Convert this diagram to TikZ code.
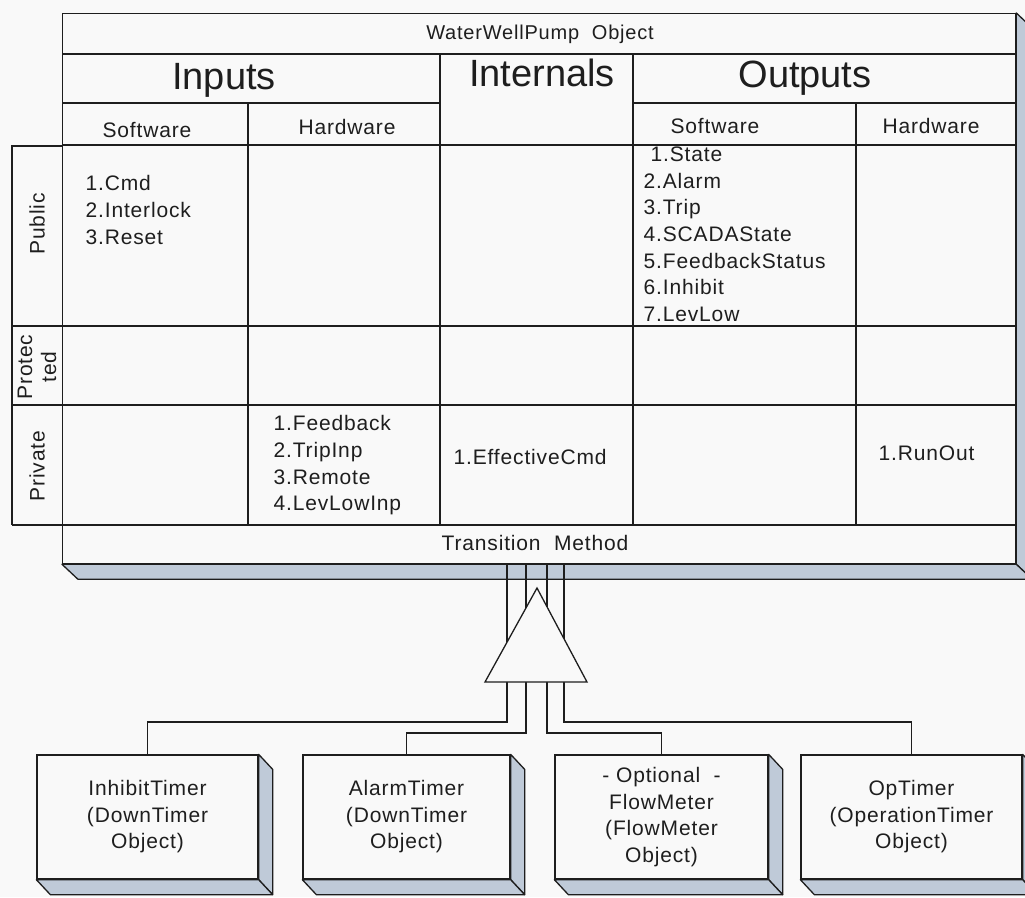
\documentclass[tikz,border=0pt]{standalone}
\usepackage{fontspec}
\setmainfont{Liberation Sans}
\newfontfamily\spaced[LetterSpace=4]{Liberation Sans}
\usetikzlibrary{calc}

\definecolor{ink}{HTML}{1E1E1E}
\definecolor{paper}{HTML}{F9F9F9}
\definecolor{slabside}{HTML}{BFCAD8}

% visible side and bottom faces of a raised block, offset by (#2,#3)
\newcommand\slabfaces[3]{%
  \filldraw[slab] (#1.north east) -- ++(#2,#3) -- ($(#1.south east)+(#2,#3)$) -- (#1.south east) -- cycle;
  \filldraw[slab] (#1.south west) -- ++(#2,#3) -- ($(#1.south east)+(#2,#3)$) -- (#1.south east) -- cycle;
}

\begin{document}
\begin{tikzpicture}[x=1pt,y=-1pt,color=ink,line width=1.3pt,
  slab/.style={fill=slabside,draw=ink,line join=round},
  grid/.style={draw=ink},
  titletext/.style={font=\spaced\fontsize{20}{24}\selectfont,inner sep=0pt,anchor=base},
  bighdr/.style={font=\fontsize{38}{40}\selectfont,inner sep=0pt,anchor=base},
  subhdr/.style={font=\spaced\fontsize{21}{25}\selectfont,inner sep=0pt,anchor=base},
  cell/.style={font=\spaced\fontsize{21}{26.7}\selectfont,align=left,inner sep=0pt,anchor=north west},
  single/.style={font=\spaced\fontsize{21}{25}\selectfont,inner sep=0pt,anchor=west},
  sidelabel/.style={font=\spaced\fontsize{21}{24}\selectfont,rotate=90,align=center,inner sep=0pt},
  partbox/.style={draw=ink,fill=paper,minimum height=124pt,align=center,inner sep=0pt,
    font=\spaced\fontsize{21}{26.5}\selectfont}]

\fill[paper] (0,0) rectangle (1025,897);
\useasboundingbox (0,0) rectangle (1025,897);

% ---- the object block ----
\node[draw=ink,fill=paper,minimum width=953pt,minimum height=550pt,inner sep=0pt,anchor=north west] (obj) at (62,13) {};
\slabfaces{obj}{16}{15}

% row and column rules
\draw[grid] (62,54) -- (1015,54);
\draw[grid] (62,103) -- (440,103);
\draw[grid] (633,103) -- (1015,103);
\draw[grid] (62,145) -- (1015,145);
\draw[grid] (12,326) -- (1015,326);
\draw[grid] (12,405) -- (1015,405);
\draw[grid] (12,525) -- (1015,525);
\draw[grid] (248,103) -- (248,525);
\draw[grid] (440,54) -- (440,525);
\draw[grid] (633,54) -- (633,525);
\draw[grid] (856,103) -- (856,525);
% visibility column on the left
\draw[grid] (62,146) -- (12,146) -- (12,525);

% headings
\node[titletext] (title) at (540,39) {WaterWellPump\ \ Object};
\node[bighdr] (hin) at (224,89) {Inputs};
\node[bighdr] (hint) at (542,86) {Internals};
\node[bighdr] (hout) at (805,87) {Outputs};
\node[subhdr] (hinsw) at (147,137) {Software};
\node[subhdr] (hinhw) at (347,134) {Hardware};
\node[subhdr] (houtsw) at (715,133) {Software};
\node[subhdr] (houthw) at (931,133) {Hardware};

% visibility labels
\node[sidelabel] (lpub) at (37,224) {Public};
\node[sidelabel] (lprot) at (37,367) {Protec\\ted};
\node[sidelabel] (lpriv) at (37,466) {Private};

% cell contents
\node[cell] (pubin) at (85,175) {1.Cmd\\2.Interlock\\3.Reset};
\node[cell] (pubout) at (643,146) {\hspace{7pt}1.State\\2.Alarm\\3.Trip\\4.SCADAState\\5.FeedbackStatus\\6.Inhibit\\7.LevLow};
\node[cell] (privin) at (273,415) {1.Feedback\\2.TripInp\\3.Remote\\4.LevLowInp};
\node[single] (privint) at (453,457) {1.EffectiveCmd};
\node[single] (privout) at (878,453) {1.RunOut};

\node[subhdr] (trans) at (535,550) {Transition\ \ Method};

% ---- contained objects ----
\node[partbox,minimum width=221pt] (inh) at (147.5,817) {InhibitTimer\\(DownTimer\\Object)};
\node[partbox,minimum width=207pt] (alm) at (406.5,817) {AlarmTimer\\(DownTimer\\Object)};
\node[partbox,minimum width=213pt] (flow) at (661.5,817) {- Optional\ \ -\\FlowMeter\\(FlowMeter\\Object)};
\node[partbox,minimum width=221pt] (opt) at (911.5,817) {OpTimer\\(OperationTimer\\Object)};
\slabfaces{inh}{14}{15}
\slabfaces{alm}{14}{15}
\slabfaces{flow}{14}{15}
\slabfaces{opt}{14}{15}

% ---- composition connectors ----
\coordinate (j1) at (507,722);
\coordinate (j2) at (526,733);
\coordinate (j3) at (547,733);
\coordinate (j4) at (564,722);
\draw (j1 |- obj.south) -- (j1) -| (inh.north);
\draw (j2 |- obj.south) -- (j2) -| (alm.north);
\draw (j3 |- obj.south) -- (j3) -| (flow.north);
\draw (j4 |- obj.south) -- (j4) -| (opt.north);

% aggregation marker
\filldraw[fill=paper,draw=ink,line join=miter] (537,588) -- (587,682) -- (485,682) -- cycle;

\end{tikzpicture}
\end{document}
